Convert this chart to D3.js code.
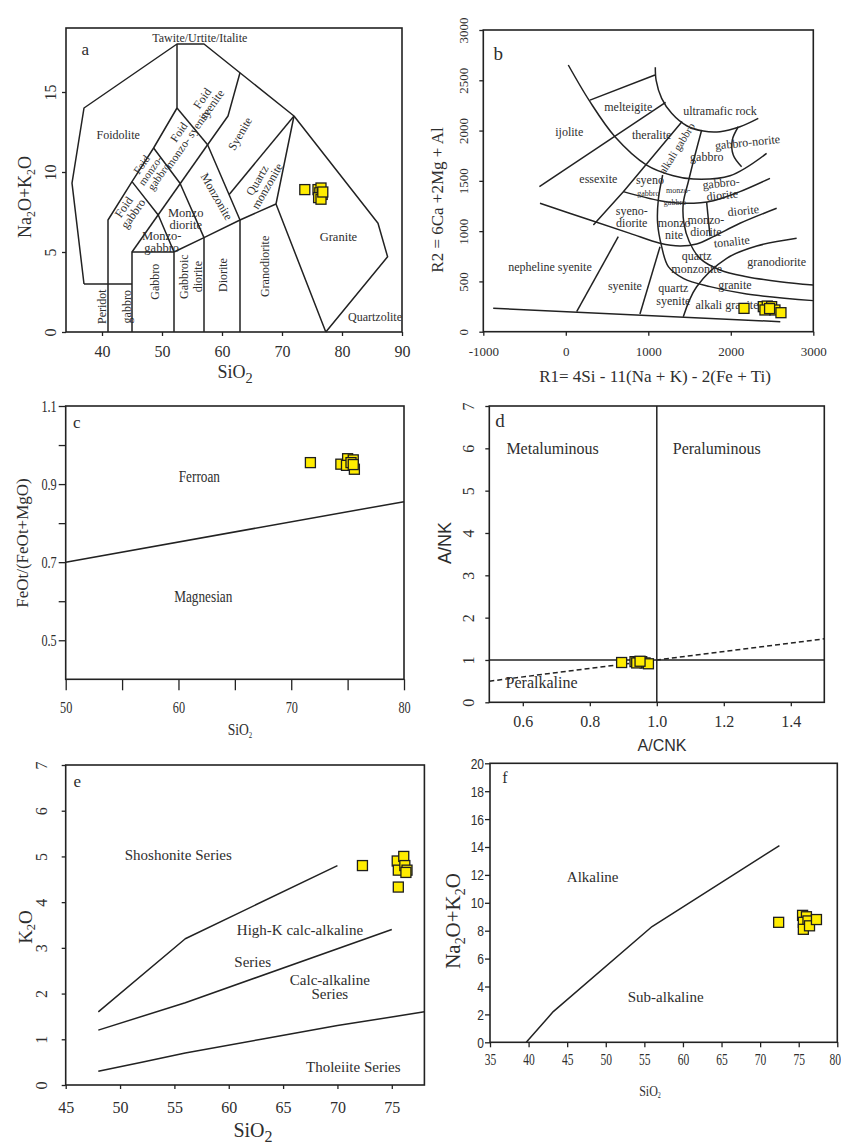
<!DOCTYPE html>
<html>
<head>
<meta charset="utf-8">
<script src="https://cdn.jsdelivr.net/npm/d3@7"></script>
<style>
  body { margin: 0; background: #fff; }
  svg { display: block; }
</style>
</head>
<body>
<svg id="fig" width="841" height="1144"></svg>
<script>
// ---------------- data ----------------
// (a) TAS classification for plutonic rocks
const tasSiO2   = [73.8, 76.0, 76.5, 76.3, 76.7, 76.1, 76.5, 76.8];
const tasAlkali = [8.9, 8.9, 9.0, 8.7, 8.6, 8.4, 8.3, 8.75];
const tasXTicks = [40, 50, 60, 70, 80, 90];
const tasYTicks = [0, 5, 10, 15];
const tasFields = [
  [[37,3],[35,9.3],[37,14],[52.5,18],[57,18],[72,13.5],[86,6.8],[87.6,4.7],[77.3,0]],
  [[37,3],[45,3]],
  [[41,0],[41,7],[45,9.4],[48.6,11.5],[52.5,14]],
  [[52.5,14],[52.5,18]],
  [[52.5,14],[57.6,11.7]],
  [[63,16.2],[61,13.5],[57.6,11.7]],
  [[45,0],[45,5],[52,5]],
  [[45,5],[57.6,11.7]],
  [[45,9.4],[49.4,7.3],[52,5]],
  [[48.6,11.5],[53,9.3],[57,5.9]],
  [[52,0],[52,5],[57,5.9],[63,7],[69,8]],
  [[57,0],[57,5.9]],
  [[63,0],[63,7],[57.6,11.7]],
  [[61.2,8.6],[72,13.5]],
  [[72,13.5],[69,8],[77.3,0]]
];

// (b) R1-R2 multicationic diagram
const r1Values = [2160, 2394, 2442, 2495, 2535, 2608, 2414, 2470];
const r2Values = [232, 249, 255, 249, 216, 189, 216, 230];
const r1Ticks = [-1000, 0, 1000, 2000, 3000];
const r2Ticks = [0, 500, 1000, 1500, 2000, 2500, 3000];
const r1r2Straight = [
  [[-880,233],[2600,100]],
  [[293,2303],[1081,2552]],
  [[-320,1442],[1210,2280]],
  [[1410,2090],[700,1395],[334,1061]],
  [[1707,1290],[1748,950]],
  [[132,199],[636,945]],
  [[899,176],[1142,845]]
];
const r1r2Curved = [
  [[30,2652],[293,2287],[596,1939],[980,1657],[1303,1551],[1546,1518],[1990,1551],[2434,1773]],
  [[1085,2630],[1095,2500],[1162,2320],[1283,2171],[1465,2048],[1667,1995],[1869,1989],[2111,2038],[2333,2121]],
  [[2091,2038],[2018,1906],[2030,1757],[2131,1640]],
  [[697,1393],[1142,1303],[1465,1277],[1788,1303],[2111,1393],[2475,1525]],
  [[1647,2005],[1566,1757],[1485,1491],[1424,1277],[1432,1078],[1497,895],[1626,729],[1869,614],[2192,547],[2596,497],[3000,464]],
  [[1174,1558],[1121,1310],[1113,1078],[1162,846],[1243,647],[1424,531],[1748,448],[2192,375],[3000,309]],
  [[-313,1277],[293,1111],[778,978],[1142,879],[1384,852],[1586,872],[1788,945],[2111,1078],[2556,1227]],
  [[1424,149],[1586,447],[1950,730],[2314,852],[2798,929]]
];

// (c) Fe-number vs SiO2
const feSiO2 = [71.7, 74.4, 75.0, 75.5, 74.9, 75.6, 75.3, 75.5];
const feNumber = [0.955, 0.951, 0.965, 0.962, 0.948, 0.938, 0.955, 0.950];
const feXTicks = [50, 55, 60, 65, 70, 75, 80];
const feYTicks = [0.5, 0.6, 0.7, 0.8, 0.9, 1.0, 1.1];
const feBoundary = [[50,0.70],[80,0.855]];

// (d) A/NK vs A/CNK
const acnk = [0.895, 0.935, 0.945, 0.955, 0.965, 0.975, 0.94, 0.95];
const ank  = [0.94, 0.96, 0.95, 0.96, 0.93, 0.91, 0.93, 0.97];
const acnkTicks = [0.6, 0.8, 1.0, 1.2, 1.4];
const ankTicks = [0, 1, 2, 3, 4, 5, 6, 7];

// (e) K2O vs SiO2
const k2oSiO2 = [72.3, 75.5, 76.1, 75.6, 76.2, 76.4, 76.3, 75.6];
const k2o     = [4.8, 4.9, 5.0, 4.7, 4.8, 4.7, 4.65, 4.33];
const k2oXTicks = [45, 50, 55, 60, 65, 70, 75];
const k2oYTicks = [0, 1, 2, 3, 4, 5, 6, 7];
const k2oSeries = [
  [[48,1.6],[56,3.2],[70,4.8]],
  [[48,1.2],[56,1.8],[75,3.4]],
  [[48,0.3],[52,0.5],[56,0.7],[63,1.0],[70,1.3],[78,1.6]]
];

// (f) total alkali vs SiO2
const alkSiO2  = [72.4, 75.5, 76.0, 75.6, 76.2, 75.6, 76.4, 77.3];
const alkTotal = [8.6, 9.1, 9.0, 8.6, 8.7, 8.1, 8.35, 8.8];
const alkXTicks = [35, 40, 45, 50, 55, 60, 65, 70, 75, 80];
const alkYTicks = [0, 2, 4, 6, 8, 10, 12, 14, 16, 18, 20];
const alkBoundary = [[39.7,0],[43.2,2.2],[56,8.3],[72.5,14.1]];

// ---------------- helpers ----------------
const INK = '#222';
const TXT = '#2e2e2e';
const SERIF = "'Liberation Serif','Times New Roman',serif";
const SANS = "'Liberation Sans',Arial,sans-serif";
const svg = d3.select('#fig');
svg.append('rect').attr('width', 841).attr('height', 1144).attr('fill', '#fff');

function tf(x, y, o) {
  let s = `translate(${x},${y})`;
  if (o.rot) s += ` rotate(${o.rot})`;
  if (o.sx) s += ` scale(${o.sx},1)`;
  return s;
}

function label(g, x, y, lines, o = {}) {
  lines = [].concat(lines);
  const size = o.size || 12, lh = o.lh || size * 0.95;
  const t = g.append('text').attr('transform', tf(x, y, o))
    .attr('text-anchor', o.anchor || 'middle')
    .attr('dominant-baseline', 'central')
    .attr('font-family', o.font || SERIF).attr('font-size', size)
    .attr('font-weight', o.weight || 'normal')
    .attr('fill', o.fill || TXT);
  lines.forEach((s, i) => t.append('tspan').attr('x', 0)
    .attr('y', (i - (lines.length - 1) / 2) * lh).text(s));
  return t;
}

// text with subscripts: parts = [[text, isSub], ...]
function rich(g, x, y, parts, o = {}) {
  const size = o.size || 16, sh = size * 0.32;
  const t = g.append('text').attr('transform', tf(x, y, o))
    .attr('text-anchor', 'middle').attr('dominant-baseline', 'central')
    .attr('font-family', o.font || SERIF).attr('font-size', size).attr('fill', o.fill || TXT);
  let low = false;
  parts.forEach(([s, sub]) => {
    const sp = t.append('tspan').text(s);
    if (sub && !low) { sp.attr('dy', sh).attr('font-size', size * (o.subScale || 0.66)); low = true; }
    else if (sub) { sp.attr('font-size', size * (o.subScale || 0.66)); }
    else if (!sub && low) { sp.attr('dy', -sh); low = false; }
  });
  return t;
}

function frame(g, x, y) {
  const [x0, x1] = x.range(), [y0, y1] = y.range();
  g.append('rect').attr('x', x0).attr('y', y1).attr('width', x1 - x0).attr('height', y0 - y1)
    .attr('fill', 'none').attr('stroke', INK).attr('stroke-width', 1.6);
}

function bottomAxis(g, x, y, ticks, o = {}) {
  const a = g.append('g').attr('transform', `translate(0,${y.range()[0]})`)
    .call(d3.axisBottom(x).tickValues(ticks).tickSize(o.tick || 4).tickFormat(o.fmt || (d => d)));
  a.select('.domain').remove();
  a.selectAll('line').attr('stroke', INK).attr('stroke-width', 1.3);
  a.selectAll('text').attr('y', null).attr('dy', null)
    .attr('transform', (d, i, n) => `translate(${i === n.length - 1 && o.lastShift ? o.lastShift : 0},${o.off})` + (o.sx ? ` scale(${o.sx},1)` : ''))
    .attr('dominant-baseline', 'central')
    .attr('font-family', o.font || SERIF).attr('font-size', o.size || 15).attr('fill', TXT);
}

function leftAxis(g, x, y, ticks, o = {}) {
  const a = g.append('g').attr('transform', `translate(${x.range()[0]},0)`)
    .call(d3.axisLeft(y).tickValues(ticks).tickSize(o.tick || 4).tickFormat(o.fmt || (d => d)));
  a.select('.domain').remove();
  a.selectAll('line').attr('stroke', INK).attr('stroke-width', 1.3);
  const t = a.selectAll('text').attr('x', null).attr('dy', null)
    .attr('dominant-baseline', 'central')
    .attr('font-family', o.font || SERIF).attr('font-size', o.size || 15).attr('fill', TXT);
  if (o.rotate) {
    t.attr('text-anchor', 'middle').attr('transform', `translate(${-o.off},0) rotate(-90)`);
  } else {
    t.attr('text-anchor', 'end')
      .attr('transform', `translate(${-o.off},0)` + (o.sx ? ` scale(${o.sx},1)` : ''));
  }
}

function boundaries(g, x, y, list, curve, dash) {
  const ln = d3.line().x(d => x(d[0])).y(d => y(d[1])).curve(curve || d3.curveLinear);
  list.forEach(pts => g.append('path').attr('d', ln(pts))
    .attr('fill', 'none').attr('stroke', INK).attr('stroke-width', 1.5)
    .attr('stroke-dasharray', dash || null).attr('stroke-linejoin', 'round'));
}

function squares(g, x, y, xs, ys, s = 10) {
  g.append('g').selectAll('rect').data(d3.zip(xs, ys)).join('rect')
    .attr('x', d => x(d[0]) - s / 2).attr('y', d => y(d[1]) - s / 2)
    .attr('width', s).attr('height', s)
    .attr('fill', '#ffec00').attr('stroke', '#1e1e1e').attr('stroke-width', 1.3);
}

// ---------------- (a) TAS ----------------
{
  const g = svg.append('g');
  const x = d3.scaleLinear().domain([34, 90]).range([66, 402]);
  const y = d3.scaleLinear().domain([0, 19]).range([332, 28]);
  boundaries(g, x, y, tasFields);
  frame(g, x, y);
  bottomAxis(g, x, y, tasXTicks, { off: 19, size: 16 });
  leftAxis(g, x, y, tasYTicks, { off: 16, size: 16, rotate: true });
  const L = (s, dx, dy, o = {}) => label(g, x(dx), y(dy), s, Object.assign({ size: 12 }, o));
  L('a', 37.2, 17.7, { size: 17 });
  L('Tawite/Urtite/Italite', 56.3, 18.35);
  L('Foidolite', 42.7, 12.3);
  L(['Foid', 'syenite'], 57.5, 14.4, { rot: -55 });
  L(['Foid', 'monzo- syenite'], 53.55, 12.3, { rot: -55, size: 11.5 });
  L(['Foid', 'monzo-', 'gabbro'], 48.0, 10.1, { rot: -55, size: 11 });
  L(['Foid', 'gabbro'], 44.4, 7.6, { rot: -55 });
  L('Syenite', 63.0, 12.4, { rot: -60 });
  L('Monzonite', 59.1, 8.46, { rot: 60 });
  L(['Quartz', 'monzonite'], 66.7, 9.3, { rot: -60 });
  L(['Monzo', 'diorite'], 53.95, 7.06, { size: 12.5 });
  L(['Monzo-', 'gabbro'], 49.95, 5.64, { size: 12.5 });
  L('Granite', 79.4, 5.96, { size: 12.5 });
  L('Quartzolite', 85.5, 0.96);
  L('Peridot', 39.95, 1.58, { rot: -90 });
  L('gabbro', 44.1, 1.58, { rot: -90 });
  L('Gabbro', 48.8, 3.14, { rot: -90 });
  L(['Gabbroic', 'diorite'], 54.8, 3.46, { rot: -90, lh: 14 });
  L('Diorite', 60.1, 3.56, { rot: -90 });
  L('Granodiorite', 67.2, 4.1, { rot: -90 });
  squares(g, x, y, tasSiO2, tasAlkali, 10);
  rich(g, 25, 197, [['Na'], ['2', 1], ['O+K'], ['2', 1], ['O']], { size: 18, rot: -90 });
  rich(g, 235, 372, [['SiO'], ['2', 1]], { size: 18, subScale: 0.8 });
}

// ---------------- (b) R1-R2 ----------------
{
  const g = svg.append('g');
  const x = d3.scaleLinear().domain([-1000, 3000]).range([483.3, 813.3]);
  const y = d3.scaleLinear().domain([0, 3000]).range([331.7, 30]);
  boundaries(g, x, y, r1r2Straight);
  boundaries(g, x, y, r1r2Curved, d3.curveCatmullRom.alpha(0.5));
  frame(g, x, y);
  bottomAxis(g, x, y, r1Ticks, { off: 20, size: 13 });
  leftAxis(g, x, y, r2Ticks, { off: 20, size: 13, rotate: true });
  const L = (s, dx, dy, o = {}) => label(g, x(dx), y(dy), s, Object.assign({ size: 12 }, o));
  L('b', -818, 2768, { size: 19 });
  L('melteigite', 757, 2237);
  L('ultramafic rock', 1869, 2195);
  L('ijolite', 42, 1983);
  L('theralite', 1041, 1956);
  L('alkali gabbro', 1344, 1824, { rot: -58, size: 11 });
  L('gabbro-norite', 2202, 1883, { rot: -6 });
  L('gabbro', 1708, 1740);
  L('essexite', 394, 1518);
  L('syeno', 1020, 1509);
  L('gabbro', 1000, 1376, { size: 8 });
  L('monzo-', 1363, 1409, { size: 8 });
  L('gabbro', 1323, 1293, { size: 8 });
  L(['gabbro-', 'diorite'], 1889, 1418, { rot: -6, lh: 12 });
  L(['syeno-', 'diorite'], 799, 1136, { lh: 12 });
  L(['monzo', 'nite'], 1313, 1020, { lh: 12 });
  L(['monzo-', 'diorite'], 1698, 1052, { lh: 12 });
  L('diorite', 2151, 1203, { rot: -6 });
  L('tonalite', 2011, 895, { rot: -6 });
  L(['quartz', 'monzonite'], 1586, 690, { lh: 12.5 });
  L('granodiorite', 2556, 696);
  L('nepheline syenite', -192, 646);
  L('syenite', 717, 451);
  L(['quartz', 'syenite'], 1303, 370, { lh: 12.5 });
  L('granite', 2050, 464);
  L('alkali granite', 1954, 266);
  squares(g, x, y, r1Values, r2Values, 10);
  label(g, 437, 200, 'R2 = 6Ca +2Mg + Al', { size: 17, rot: -90 });
  label(g, 655, 376, 'R1= 4Si - 11(Na + K) - 2(Fe + Ti)', { size: 17 });
}

// ---------------- (c) Fe-number ----------------
{
  const g = svg.append('g');
  const x = d3.scaleLinear().domain([50, 80]).range([65.7, 404]);
  const y = d3.scaleLinear().domain([0.4, 1.1]).range([679.3, 406]);
  boundaries(g, x, y, [feBoundary]);
  frame(g, x, y);
  bottomAxis(g, x, y, feXTicks, { off: 28, size: 17, sx: 0.72, tick: 11,
    fmt: d => (d % 10 === 0 ? d : '') });
  leftAxis(g, x, y, feYTicks, { off: 9, size: 17, sx: 0.72, tick: 7,
    fmt: d => ([0.5, 0.7, 0.9, 1.1].some(v => Math.abs(v - d) < 1e-9) ? d3.format('.1f')(d) : '') });
  const L = (s, dx, dy, o = {}) => label(g, x(dx), y(dy), s, Object.assign({ size: 17, sx: 0.78 }, o));
  L('c', 50.98, 1.06, { size: 17, sx: 1 });
  L('Ferroan', 61.85, 0.923);
  L('Magnesian', 62.2, 0.615);
  squares(g, x, y, feSiO2, feNumber, 10);
  label(g, 22, 543, 'FeOt/(FeOt+MgO)', { size: 17, rot: -90 });
  rich(g, 240, 730, [['SiO'], ['2', 1]], { size: 16, sx: 0.85, subScale: 0.5 });
}

// ---------------- (d) A/NK vs A/CNK ----------------
{
  const g = svg.append('g');
  const x = d3.scaleLinear().domain([0.5, 1.5]).range([489.3, 824.3]);
  const y = d3.scaleLinear().domain([0, 7]).range([702.3, 406]);
  boundaries(g, x, y, [[[1, 0], [1, 7]], [[0.5, 1], [1.5, 1]]]);
  boundaries(g, x, y, [[[0.5, 0.5], [1.5, 1.5]]], null, '5,3');
  frame(g, x, y);
  bottomAxis(g, x, y, acnkTicks, { off: 19, size: 16, fmt: d3.format('.1f') });
  leftAxis(g, x, y, ankTicks, { off: 21, size: 16, rotate: true });
  const L = (s, dx, dy, o = {}) => label(g, x(dx), y(dy), s, Object.assign({ size: 16 }, o));
  L('d', 0.532, 6.67, { size: 19 });
  L('Metaluminous', 0.689, 6.0);
  L('Peraluminous', 1.179, 6.0);
  L('Peralkaline', 0.656, 0.49);
  squares(g, x, y, acnk, ank, 10);
  label(g, 445, 543, 'A/NK', { size: 18, rot: -90, font: SANS });
  label(g, 662, 745, 'A/CNK', { size: 16, font: SANS });
}

// ---------------- (e) K2O vs SiO2 ----------------
{
  const g = svg.append('g');
  const x = d3.scaleLinear().domain([45, 78]).range([65.7, 424.4]);
  const y = d3.scaleLinear().domain([0, 7]).range([1085, 765]);
  boundaries(g, x, y, k2oSeries);
  frame(g, x, y);
  bottomAxis(g, x, y, k2oXTicks, { off: 22, size: 16 });
  leftAxis(g, x, y, k2oYTicks, { off: 24, size: 16, rotate: true, tick: 0 });
  const L = (s, dx, dy, o = {}) => label(g, x(dx), y(dy), s, Object.assign({ size: 15 }, o));
  L('e', 46.07, 6.64, { size: 17 });
  L('Shoshonite Series', 55.36, 5.03);
  L('High-K calc-alkaline', 66.55, 3.38);
  L('Series', 62.2, 2.70);
  L(['Calc-alkaline', 'Series'], 69.3, 2.15, { lh: 14 });
  L('Tholeiite Series', 71.46, 0.40);
  squares(g, x, y, k2oSiO2, k2o, 10);
  rich(g, 25, 927, [['K'], ['2', 1], ['O']], { size: 19, rot: -90 });
  rich(g, 253, 1130, [['SiO'], ['2', 1]], { size: 20, subScale: 0.8 });
}

// ---------------- (f) total alkali vs SiO2 ----------------
{
  const g = svg.append('g');
  const x = d3.scaleLinear().domain([35, 80]).range([490, 837.3]);
  const y = d3.scaleLinear().domain([0, 20]).range([1042.3, 763.3]);
  boundaries(g, x, y, [alkBoundary]);
  frame(g, x, y);
  bottomAxis(g, x, y, alkXTicks, { off: 18, size: 16, sx: 0.72, tick: 5, lastShift: -2.5 });
  leftAxis(g, x, y, alkYTicks, { off: 6, size: 15, sx: 0.8, tick: 5, font: SANS });
  const L = (s, dx, dy, o = {}) => label(g, x(dx), y(dy), s, Object.assign({ size: 15 }, o));
  L('f', 36.94, 19.04, { size: 16 });
  L('Alkaline', 48.3, 11.83);
  L('Sub-alkaline', 57.76, 3.27);
  squares(g, x, y, alkSiO2, alkTotal, 10);
  rich(g, 453, 921, [['Na'], ['2', 1], ['O+K'], ['2', 1], ['O']], { size: 21, rot: -90 });
  rich(g, 650, 1090, [['SiO'], ['2', 1]], { size: 15, sx: 0.8, subScale: 0.5 });
}
</script>
</body>
</html>
